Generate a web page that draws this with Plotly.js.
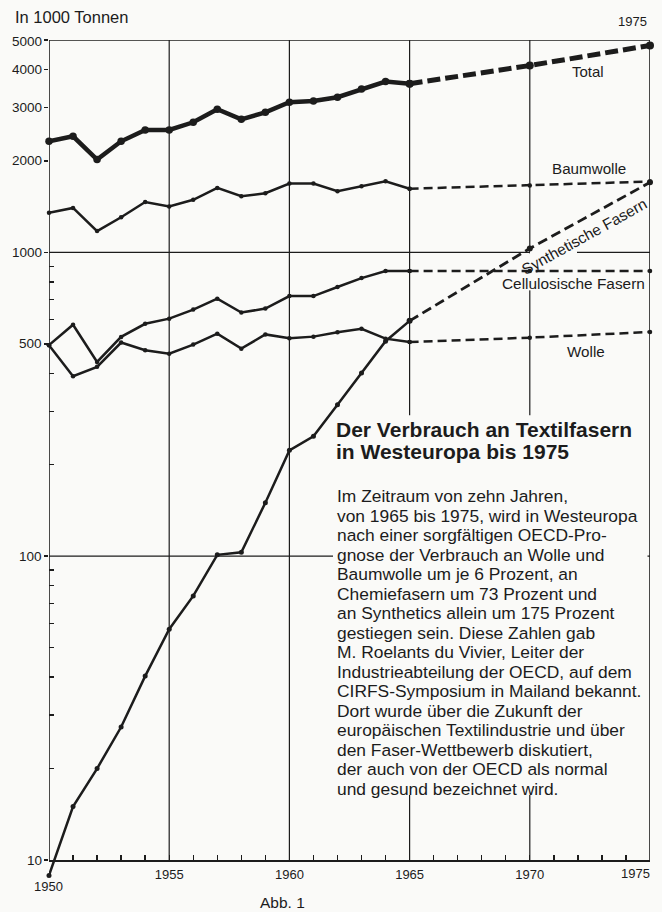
<!DOCTYPE html>
<html>
<head>
<meta charset="utf-8">
<script src="https://cdn.plot.ly/plotly-3.0.1.min.js"></script>
<style>
html,body{margin:0;padding:0;background:#fafaf8;}
#chart{width:662px;height:912px;}
</style>
</head>
<body>
<div id="chart"></div>
<script>
// ---------- DATA ----------
const years = [1950,1951,1952,1953,1954,1955,1956,1957,1958,1959,1960,1961,1962,1963,1964,1965];
const total      = [2320,2410,2020,2320,2530,2530,2680,2960,2740,2890,3120,3150,3240,3450,3650,3590];
const baumwolle  = [1350,1400,1175,1305,1465,1415,1490,1630,1530,1565,1685,1685,1590,1650,1715,1620];
const cellulose  = [495,578,436,527,582,605,648,704,634,653,718,718,769,823,868,868];
const wolle      = [495,391,420,505,476,464,497,540,482,537,522,528,546,560,520,507];
const synthetics = [8.9,15,20,27.4,40.3,57.5,74,101,103,150,223,248,315,401,510,595];

const projYears      = [1965,1970,1975];
const totalProj      = [3590,4120,4800];
const baumwolleProj  = [1620,1660,1710];
const celluloseProj  = [868,868,868];
const wolleProj      = [507,524,547];
const syntheticsProj = [595,1030,1700];

const xTickYears  = [1950,1951,1952,1953,1954,1955,1956,1957,1958,1959,1960,1961,1962,1963,1964,1965,1966,1967,1968,1969,1970,1971,1972,1973,1974,1975];
const xLabelYears = [1955,1960,1965,1970,1975];
const yTickVals   = [10,100,500,1000,2000,3000,4000,5000];
const yTickText   = ['10','100','500','1000','2000','3000','4000','5000'];
const yMinorVals  = [20,30,40,50,60,70,80,90,200,300,400,600,700,800,900];
const gridYears   = [1955,1960,1965,1970];
const gridValues  = [100,1000];

const titleLines = ['Der Verbrauch an Textilfasern','in Westeuropa bis 1975'];
const bodyLines = [
 'Im Zeitraum von zehn Jahren,',
 'von 1965 bis 1975, wird in Westeuropa',
 'nach einer sorgfältigen OECD-Pro-',
 'gnose der Verbrauch an Wolle und',
 'Baumwolle um je 6 Prozent, an',
 'Chemiefasern um 73 Prozent und',
 'an Synthetics allein um 175 Prozent',
 'gestiegen sein. Diese Zahlen gab',
 'M. Roelants du Vivier, Leiter der',
 'Industrieabteilung der OECD, auf dem',
 'CIRFS-Symposium in Mailand bekannt.',
 'Dort wurde über die Zukunft der',
 'europäischen Textilindustrie und über',
 'den Faser-Wettbewerb diskutiert,',
 'der auch von der OECD als normal',
 'und gesund bezeichnet wird.'
];

// ---------- GEOMETRY HELPERS ----------
const W=662, H=912;
const L=49, R=650, T=39.5, B=880, Y10=860;
const X0=1950, X1=1975;
const logTop = Math.log10(5000);
const lyMin = 1 - (B-Y10)*(logTop-1)/(Y10-T);
const px = x => (x-L)/(R-L);
const py = y => (B-y)/(B-T);
const yearAt = x => X0 + px(x)*(X1-X0);
const valAt = y => Math.pow(10, lyMin + py(y)*(logTop-lyMin));
const valFrac = v => (Math.log10(v)-lyMin)/(logTop-lyMin);

const INK = '#1c1c1c';
const BG = '#fafaf8';
const FONT = 'Liberation Sans, Arial, sans-serif';

function solid(x,y,w,ms){
  return {x:x,y:y,type:'scatter',mode:'lines+markers',
    line:{color:INK,width:w},marker:{color:INK,size:ms},
    hoverinfo:'skip',showlegend:false,cliponaxis:false};
}
function dashed(x,y,w,ms,dash){
  return {x:x,y:y,type:'scatter',mode:'lines+markers',
    line:{color:INK,width:w,dash:dash},marker:{color:INK,size:ms},
    hoverinfo:'skip',showlegend:false,cliponaxis:false};
}

const traces = [
  solid(years,baumwolle,2.5,4.5),
  dashed(projYears,baumwolleProj,2.5,4.5,'9px,5px'),
  solid(years,cellulose,2.5,4.5),
  dashed(projYears,celluloseProj,2.5,4.5,'9px,5px'),
  solid(years,wolle,2.5,4.5),
  dashed(projYears,wolleProj,2.5,4.5,'9px,5px'),
  solid(years,synthetics,2.5,5),
  dashed(projYears,syntheticsProj,2.8,0,'10px,5px'),
  solid(years,total,4.5,7.5),
  dashed(projYears,totalProj,5,8,'13px,5px')
];

// ---------- SHAPES ----------
const shapes = [];
gridYears.forEach(yr=>{
  shapes.push({type:'line',xref:'x',yref:'y',x0:yr,x1:yr,y0:10,y1:5000,line:{color:INK,width:1.2},layer:'below'});
});
gridValues.forEach(v=>{
  shapes.push({type:'line',xref:'x',yref:'y',x0:X0,x1:X1,y0:v,y1:v,line:{color:INK,width:1.2},layer:'below'});
});
// masks (paper background behind text block and rotated label)
function mask(xa,xb,ya,yb){
  return {type:'rect',xref:'x',yref:'y',x0:yearAt(xa),x1:yearAt(xb),y0:valAt(yb),y1:valAt(ya),
    fillcolor:BG,line:{width:0},layer:'below'};
}
shapes.push(mask(333,647.5,415,795));
shapes.push(mask(530,577,246,256));
shapes.push(mask(525,532,253,290));
// frame
shapes.push({type:'line',xref:'x',yref:'y',x0:X0,x1:X0,y0:10,y1:5000,line:{color:INK,width:1.6},layer:'below'});
shapes.push({type:'line',xref:'x',yref:'y',x0:X0,x1:X1,y0:5000,y1:5000,line:{color:INK,width:1.6},layer:'below'});
shapes.push({type:'line',xref:'x',yref:'y',x0:X1,x1:X1,y0:10,y1:5000,line:{color:INK,width:1.6},layer:'below'});

// ---------- ANNOTATIONS ----------
const ann = [];
function txt(t,x,y,size,opts){
  return Object.assign({text:t,xref:'paper',yref:'paper',x:px(x),y:py(y),showarrow:false,
    xanchor:'center',yanchor:'middle',font:{family:FONT,size:size,color:INK}},opts||{});
}
// y tick labels, right-aligned just left of the outside ticks
yTickVals.forEach((v,i)=>{
  ann.push({text:yTickText[i],xref:'paper',yref:'paper',x:px(44),y:valFrac(v)-(v===5000?2/(B-T):0),
    showarrow:false,xanchor:'right',yanchor:'middle',font:{family:FONT,size:13.5,color:INK}});
});
ann.push(txt('In 1000 Tonnen',13,16,16.5,{xanchor:'left'}));
ann.push(txt('1975',649,21,13,{xanchor:'right'}));
ann.push(txt('1950',48,887,13));
ann.push(txt('1975',635,873,13));
ann.push(txt('Abb. 1',282.5,903,15.5));
ann.push(txt('Total',588,71,15));
ann.push(txt('Baumwolle',589,168,15.2));
ann.push(txt('Cellulosische Fasern',573,283,15.4));
ann.push(txt('Wolle',586,351,15.2));
ann.push(txt('Synthetische Fasern',584,236,15.4,{textangle:-29}));
titleLines.forEach((t,i)=>{
  ann.push(txt('<b>'+t+'</b>',334,429.5+i*21.5,21,{xanchor:'left'}));
});
bodyLines.forEach((t,i)=>{
  ann.push(txt(t,335,496+i*19.53,17.4,{xanchor:'left'}));
});

const xPos = (1-lyMin)/(logTop-lyMin);

const layout = {
  width:W,height:H,
  margin:{l:L,r:W-R,t:T,b:H-B,pad:0},
  paper_bgcolor:BG,plot_bgcolor:BG,
  showlegend:false,
  font:{family:FONT,color:INK,size:13},
  xaxis:{
    range:[X0,X1],anchor:'free',position:xPos,
    showgrid:false,zeroline:false,showline:true,linecolor:INK,linewidth:1.6,
    tickmode:'array',tickvals:xTickYears,
    ticktext:xTickYears.map(y=>(xLabelYears.indexOf(y)>=0 && y!==X1)?String(y):''),
    ticks:'inside',ticklen:5,tickwidth:1.4,tickcolor:INK,
    tickfont:{family:FONT,size:13,color:INK},ticklabelstandoff:2
  },
  yaxis:{
    type:'log',range:[lyMin,logTop],
    showgrid:false,zeroline:false,showline:false,
    tickmode:'array',tickvals:yTickVals,ticktext:yTickText,showticklabels:false,
    ticks:'outside',ticklen:4,tickwidth:1.4,tickcolor:INK,
    minor:{tickmode:'array',tickvals:yMinorVals,ticks:'inside',ticklen:5,tickwidth:1.4,tickcolor:INK,showgrid:false}
  },
  shapes:shapes,
  annotations:ann
};

Plotly.newPlot('chart',traces,layout,{staticPlot:true,displayModeBar:false});
</script>
</body>
</html>
